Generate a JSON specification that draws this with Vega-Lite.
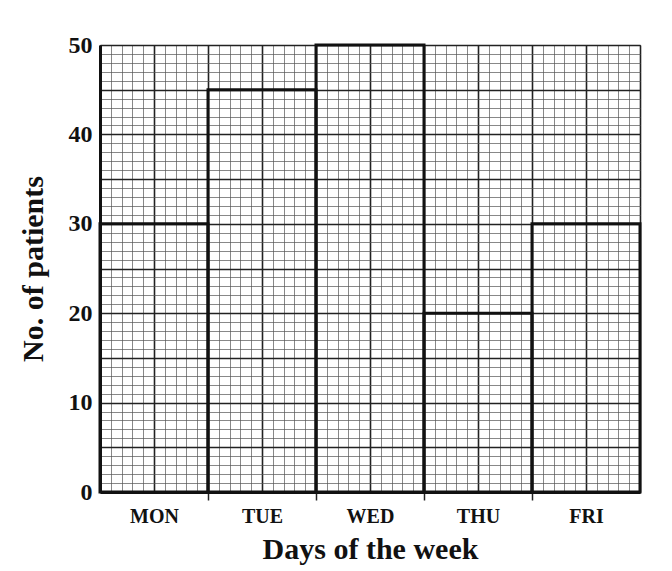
{
  "$schema": "https://vega.github.io/schema/vega-lite/v6.json",
  "width": 540,
  "height": 447,
  "autosize": "none",
  "padding": {"left": 100, "top": 45, "right": 32, "bottom": 79},
  "background": "white",
  "config": {
    "font": "Liberation Serif",
    "view": {"stroke": "#333", "strokeWidth": 1}
  },
  "data": {
    "values": [
      {"day": "MON", "start": 0, "end": 1, "patients": 30},
      {"day": "TUE", "start": 1, "end": 2, "patients": 45},
      {"day": "WED", "start": 2, "end": 3, "patients": 50},
      {"day": "THU", "start": 3, "end": 4, "patients": 20},
      {"day": "FRI", "start": 4, "end": 5, "patients": 30}
    ]
  },
  "mark": {"type": "rect", "fill": "white", "fillOpacity": 0, "stroke": "#111", "strokeWidth": 3},
  "encoding": {
    "x": {
      "field": "start",
      "type": "quantitative",
      "scale": {"domain": [0, 5], "nice": false, "zero": false},
      "axis": {
        "title": "Days of the week",
        "titleFontSize": 30,
        "titleFontWeight": "bold",
        "titleColor": "#111",
        "titlePadding": 8,
        "values": [0,0.1,0.2,0.3,0.4,0.5,0.6,0.7,0.8,0.9,1,1.1,1.2,1.3,1.4,1.5,1.6,1.7,1.8,1.9,2,2.1,2.2,2.3,2.4,2.5,2.6,2.7,2.8,2.9,3,3.1,3.2,3.3,3.4,3.5,3.6,3.7,3.8,3.9,4,4.1,4.2,4.3,4.4,4.5,4.6,4.7,4.8,4.9,5],
        "labelExpr": "abs(datum.value-0.5)<0.001 ? 'MON' : abs(datum.value-1.5)<0.001 ? 'TUE' : abs(datum.value-2.5)<0.001 ? 'WED' : abs(datum.value-3.5)<0.001 ? 'THU' : abs(datum.value-4.5)<0.001 ? 'FRI' : ''",
        "labelOverlap": false,
        "labelBound": false,
        "labelFontSize": 20,
        "labelFontWeight": "bold",
        "labelColor": "#111",
        "labelPadding": 6,
        "domainColor": "#111",
        "domainWidth": 3,
        "tickSize": 8,
        "tickColor": "#222",
        "tickWidth": 1.5,
        "tickOpacity": {"condition": {"test": "datum.value > 0.5 && datum.value < 4.5 && abs(datum.value - round(datum.value)) < 0.001", "value": 1}, "value": 0},
        "grid": true,
        "gridColor": {"condition": {"test": "abs(datum.value*2 - round(datum.value*2)) < 0.001", "value": "#222"}, "value": "#555"},
        "gridWidth": {"condition": {"test": "abs(datum.value*2 - round(datum.value*2)) < 0.001", "value": 1.6}, "value": 0.7},
        "gridOpacity": 1
      }
    },
    "x2": {"field": "end"},
    "y": {
      "field": "patients",
      "type": "quantitative",
      "scale": {"domain": [0, 50], "nice": false},
      "axis": {
        "title": "No. of patients",
        "titleFontSize": 30,
        "titleFontWeight": "bold",
        "titleColor": "#111",
        "titlePadding": 20,
        "values": [0,1,2,3,4,5,6,7,8,9,10,11,12,13,14,15,16,17,18,19,20,21,22,23,24,25,26,27,28,29,30,31,32,33,34,35,36,37,38,39,40,41,42,43,44,45,46,47,48,49,50],
        "labelExpr": "datum.value % 10 === 0 ? datum.label : ''",
        "labelOverlap": false,
        "labelBound": false,
        "labelFontSize": 24,
        "labelFontWeight": "bold",
        "labelColor": "#111",
        "labelPadding": 8,
        "ticks": false,
        "domainColor": "#111",
        "domainWidth": 3,
        "grid": true,
        "gridColor": {"condition": {"test": "datum.value % 5 === 0", "value": "#222"}, "value": "#555"},
        "gridWidth": {"condition": {"test": "datum.value % 5 === 0", "value": 1.6}, "value": 0.7},
        "gridOpacity": 1
      }
    },
    "y2": {"datum": 0}
  }
}
